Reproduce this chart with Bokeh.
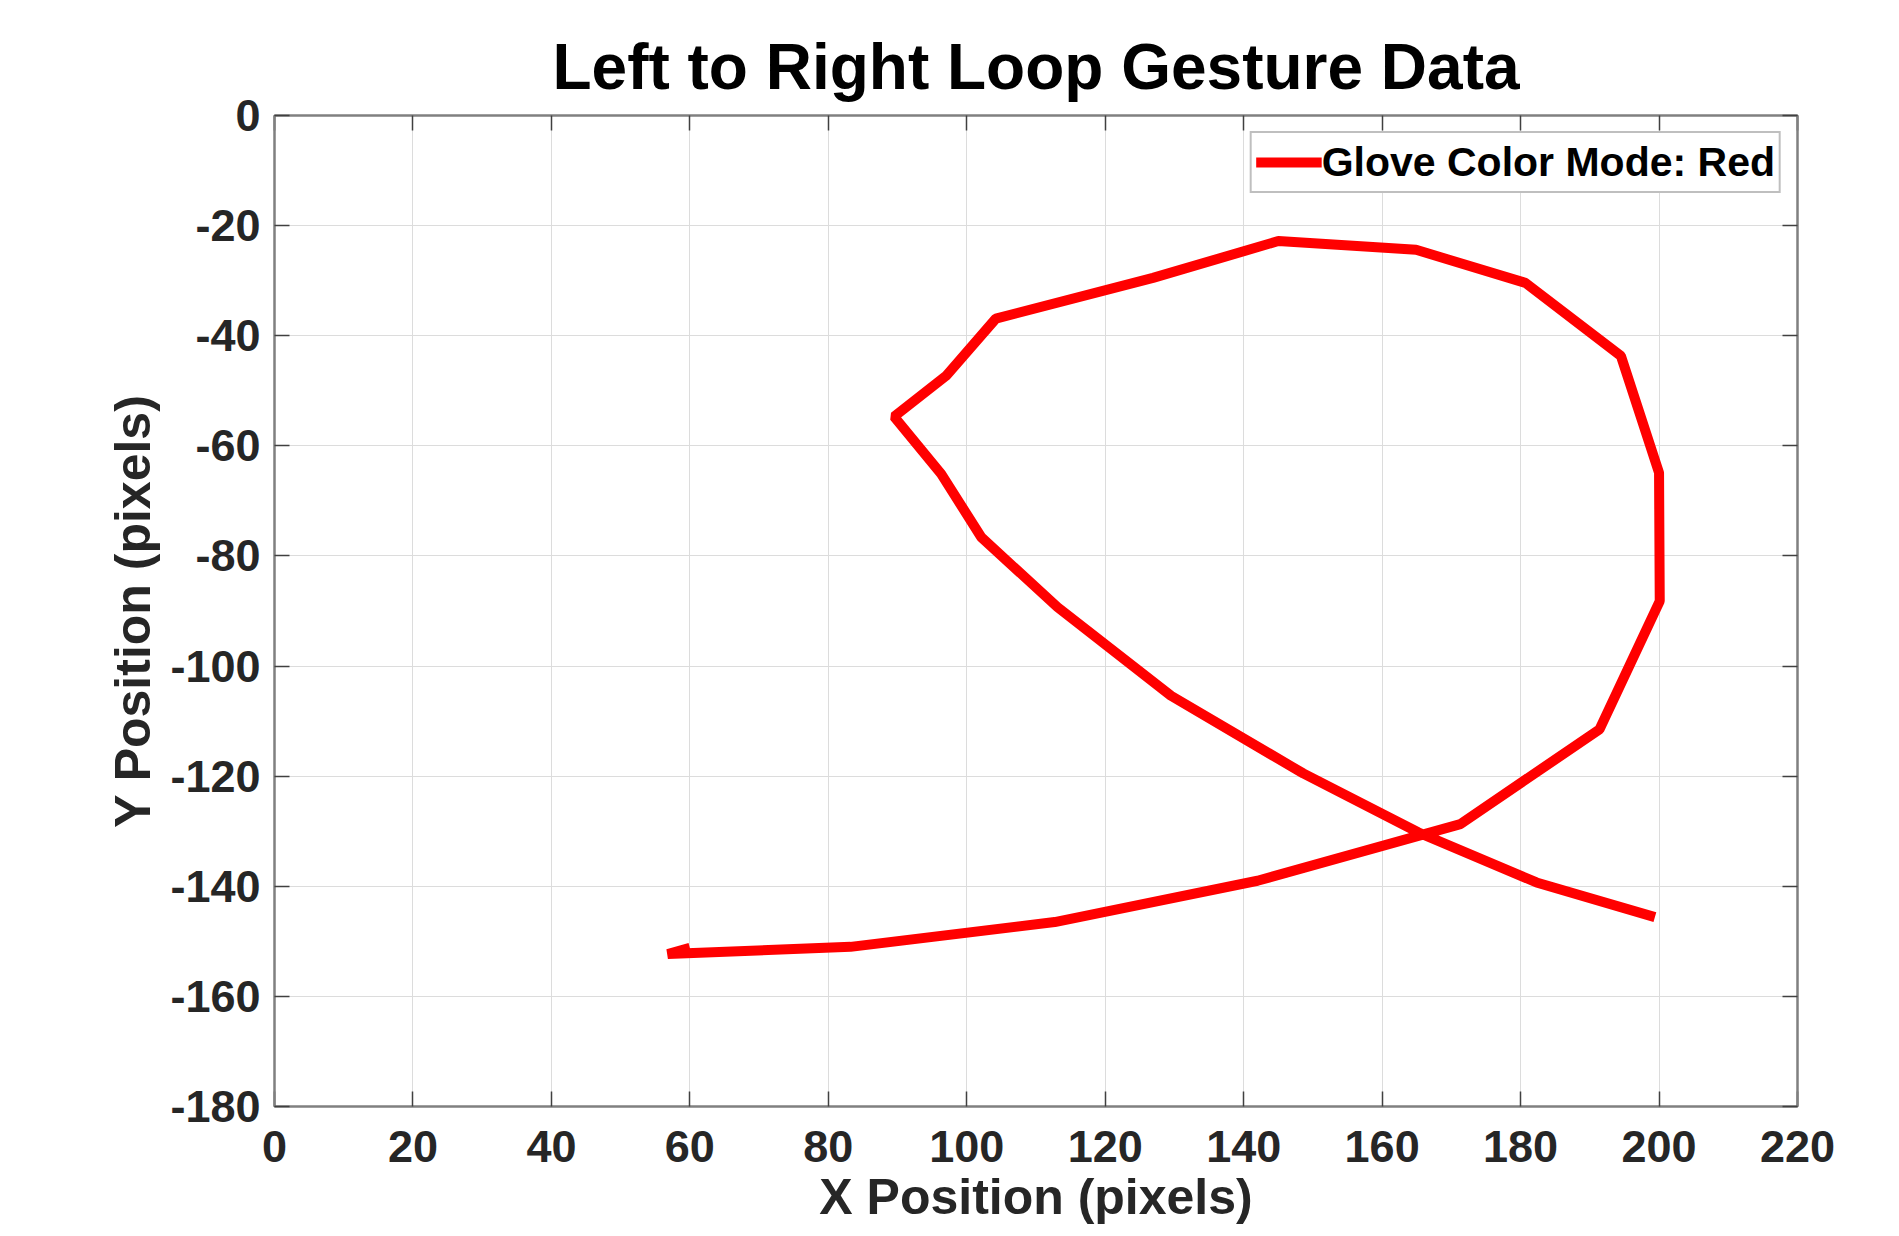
from bokeh.plotting import figure
from bokeh.models import (LinearAxis, Range1d, FixedTicker, Legend, LegendItem,
                          CustomLabelingPolicy)
from bokeh.embed import file_html
from bokeh.resources import INLINE

# Data (gesture trajectory, pixels)
x_pos = [60.0, 56.8, 83.2, 112.7, 142.0, 171.3, 191.4, 200.1, 200.0, 194.5, 180.7,
         164.9, 145.0, 126.9, 104.2, 97.0, 89.5, 96.3, 102.1, 113.1, 129.5, 148.6,
         165.2, 182.3, 199.4]
y_pos = [-151.2, -152.3, -151.0, -146.5, -139.0, -128.7, -111.5, -88.2, -64.9, -43.7,
         -30.4, -24.4, -22.8, -29.5, -36.9, -47.3, -54.7, -65.1, -76.6, -89.3, -105.4,
         -119.5, -130.2, -139.3, -145.6]
x_ticks = [0, 20, 40, 60, 80, 100, 120, 140, 160, 180, 200, 220]
y_ticks = [-180, -160, -140, -120, -100, -80, -60, -40, -20, 0]
x_tick_labels = ["0", "20", "40", "60", "80", "100", "120", "140", "160", "180", "200", "220"]
y_tick_labels = ["-180", "-160", "-140", "-120", "-100", "-80", "-60", "-40", "-20", "0"]
series_label = "Glove Color Mode: Red"
title_text = "Left to Right Loop Gesture Data"
x_label = "X Position (pixels)"
y_label = "Y Position (pixels)"

FONT = "Liberation Sans"
AX_GRAY = "#808080"
TXT = "#262626"

p = figure(width=1883, height=1228, output_backend="svg", toolbar_location=None,
           x_range=Range1d(0, 220), y_range=Range1d(-180, 0),
           min_border_left=274, min_border_right=86, min_border_top=115, min_border_bottom=122,
           background_fill_color="white", border_fill_color="white")

p.title.text = title_text
p.title.align = "center"
p.title.text_font = FONT
p.title.text_font_size = "64px"
p.title.text_font_style = "bold"
p.title.text_color = "black"
p.title.standoff = 18

r = p.line(x_pos, y_pos, line_color="#ff0000", line_width=10, line_join="bevel", line_cap="butt")

for ax, ticks, labels in [(p.xaxis[0], x_ticks, x_tick_labels), (p.yaxis[0], y_ticks, y_tick_labels)]:
    ax.ticker = FixedTicker(ticks=ticks)
    ax.major_label_overrides = {t: s for t, s in zip(ticks, labels)}
    ax.major_label_text_font = FONT
    ax.major_label_text_font_size = "45px"
    ax.major_label_text_font_style = "bold"
    ax.major_label_text_color = TXT
    ax.axis_label_text_font = FONT
    ax.axis_label_text_font_size = "50px"
    ax.axis_label_text_font_style = "bold"
    ax.axis_label_text_color = TXT
    ax.axis_line_color = AX_GRAY
    ax.axis_line_width = 2
    ax.major_tick_in = 15
    ax.major_tick_out = 0
    ax.major_tick_line_color = "#404040"
    ax.major_tick_line_width = 1.5
    ax.minor_tick_line_color = None

p.xaxis[0].axis_label = x_label
p.yaxis[0].axis_label = y_label
p.xaxis[0].major_label_standoff = 24
p.xaxis[0].axis_label_standoff = 4
p.xaxis[0].major_label_text_line_height = 0.9
p.xaxis[0].axis_label_text_line_height = 0.9
p.yaxis[0].major_label_standoff = 14
p.yaxis[0].axis_label_standoff = 6

# box ticks on top and right (no labels)
no_labels = CustomLabelingPolicy(code="return []")
for loc, ticks in [("above", x_ticks), ("right", y_ticks)]:
    ax = LinearAxis(ticker=FixedTicker(ticks=ticks))
    ax.major_label_policy = no_labels
    ax.major_label_text_font_size = "1px"
    ax.major_label_standoff = 0
    ax.axis_line_color = AX_GRAY
    ax.axis_line_width = 2
    ax.major_tick_in = 15
    ax.major_tick_out = 0
    ax.major_tick_line_color = "#404040"
    ax.major_tick_line_width = 1.5
    ax.minor_tick_line_color = None
    p.add_layout(ax, loc)

p.xgrid.grid_line_color = "#dcdcdc"
p.ygrid.grid_line_color = "#dcdcdc"
p.xgrid.grid_line_width = 1
p.ygrid.grid_line_width = 1
p.outline_line_color = AX_GRAY
p.outline_line_width = 2

legend = Legend(items=[LegendItem(label=series_label, renderers=[r])],
                location="top_right", margin=16, padding=4, spacing=0,
                glyph_width=66, glyph_height=50, label_standoff=0,
                label_text_font=FONT, label_text_font_size="41px",
                label_text_font_style="bold", label_text_color="black",
                border_line_color=AX_GRAY, border_line_width=2,
                background_fill_color="white", background_fill_alpha=1.0)
p.add_layout(legend)

open("out.html", "w").write(file_html(p, INLINE))
